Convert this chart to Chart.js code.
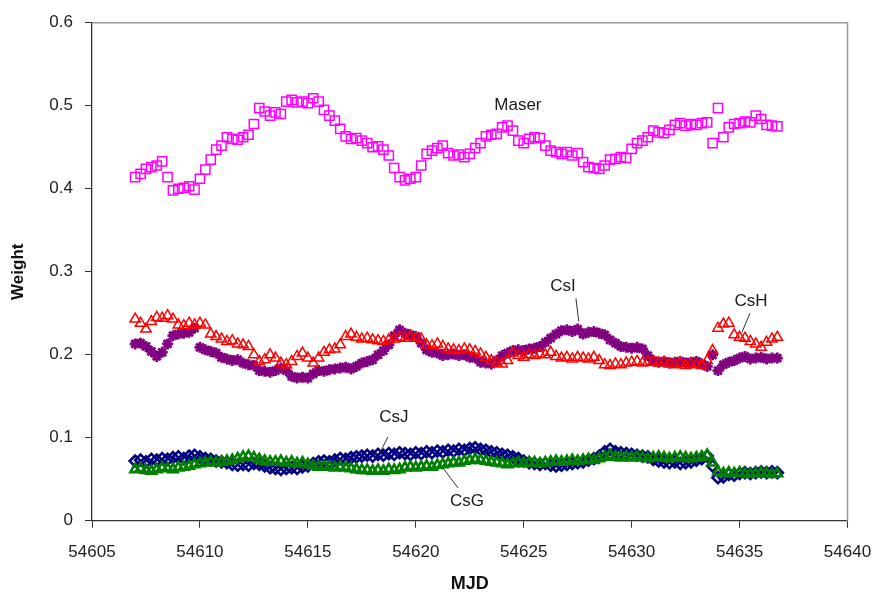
<!DOCTYPE html>
<html>
<head>
<meta charset="utf-8">
<title>Clock weights vs MJD</title>
<script src="https://cdn.jsdelivr.net/npm/chart.js@4.4.1/dist/chart.umd.min.js"></script>
<style>
  html, body { margin: 0; padding: 0; background: #ffffff; }
  #wrap { width: 880px; height: 598px; position: relative; }
</style>
</head>
<body>
<div id="wrap"><canvas id="chart" width="880" height="598"></canvas></div>
<script>
// Sample times (MJD), shared by all five clocks
const mjd = [
  54607.00, 54607.25, 54607.50, 54607.75, 54608.00, 54608.25, 54608.50, 54608.75,
  54609.00, 54609.25, 54609.50, 54609.75, 54610.00, 54610.25, 54610.50, 54610.75,
  54611.00, 54611.25, 54611.50, 54611.75, 54612.00, 54612.25, 54612.50, 54612.75,
  54613.00, 54613.25, 54613.50, 54613.75, 54614.00, 54614.25, 54614.50, 54614.75,
  54615.00, 54615.25, 54615.50, 54615.75, 54616.00, 54616.25, 54616.50, 54616.75,
  54617.00, 54617.25, 54617.50, 54617.75, 54618.00, 54618.25, 54618.50, 54618.75,
  54619.00, 54619.25, 54619.50, 54619.75, 54620.00, 54620.25, 54620.50, 54620.75,
  54621.00, 54621.25, 54621.50, 54621.75, 54622.00, 54622.25, 54622.50, 54622.75,
  54623.00, 54623.25, 54623.50, 54623.75, 54624.00, 54624.25, 54624.50, 54624.75,
  54625.00, 54625.25, 54625.50, 54625.75, 54626.00, 54626.25, 54626.50, 54626.75,
  54627.00, 54627.25, 54627.50, 54627.75, 54628.00, 54628.25, 54628.50, 54628.75,
  54629.00, 54629.25, 54629.50, 54629.75, 54630.00, 54630.25, 54630.50, 54630.75,
  54631.00, 54631.25, 54631.50, 54631.75, 54632.00, 54632.25, 54632.50, 54632.75,
  54633.00, 54633.25, 54633.50, 54633.75, 54634.00, 54634.25, 54634.50, 54634.75,
  54635.00, 54635.25, 54635.50, 54635.75, 54636.00, 54636.25, 54636.50, 54636.75
];

const maser = [
  0.414, 0.418, 0.424, 0.426, 0.428, 0.433, 0.414, 0.398,
  0.400, 0.401, 0.403, 0.399, 0.412, 0.423, 0.435, 0.447,
  0.452, 0.462, 0.460, 0.459, 0.462, 0.465, 0.478, 0.497,
  0.493, 0.488, 0.492, 0.490, 0.505, 0.507, 0.504, 0.505,
  0.503, 0.509, 0.505, 0.495, 0.488, 0.482, 0.472, 0.463,
  0.460, 0.461, 0.458, 0.455, 0.450, 0.451, 0.447, 0.440,
  0.425, 0.414, 0.410, 0.412, 0.414, 0.428, 0.442, 0.446,
  0.449, 0.452, 0.443, 0.440, 0.441, 0.438, 0.442, 0.449,
  0.455, 0.463, 0.465, 0.466, 0.474, 0.476, 0.470, 0.458,
  0.455, 0.460, 0.462, 0.461, 0.452, 0.446, 0.444, 0.442,
  0.444, 0.440, 0.443, 0.432, 0.426, 0.425, 0.424, 0.428,
  0.435, 0.436, 0.438, 0.437, 0.448, 0.455, 0.458, 0.462,
  0.470, 0.468, 0.467, 0.471, 0.477, 0.479, 0.476, 0.478,
  0.477, 0.479, 0.480, 0.455, 0.497, 0.462, 0.474, 0.478,
  0.479, 0.481, 0.480, 0.488, 0.484, 0.477, 0.476, 0.475
];

const csH = [
  0.243, 0.238, 0.231, 0.240, 0.245, 0.244, 0.247, 0.243,
  0.236, 0.235, 0.238, 0.236, 0.238, 0.236, 0.225, 0.222,
  0.219, 0.216, 0.217, 0.213, 0.212, 0.210, 0.200, 0.192,
  0.194, 0.200, 0.196, 0.190, 0.188, 0.192, 0.198, 0.202,
  0.196, 0.190, 0.196, 0.203, 0.206, 0.207, 0.212, 0.222,
  0.225, 0.221, 0.219, 0.220, 0.218, 0.217, 0.216, 0.218,
  0.219, 0.221, 0.220, 0.222, 0.220, 0.219, 0.212, 0.211,
  0.213, 0.210, 0.207, 0.206, 0.205, 0.207, 0.206, 0.204,
  0.201, 0.197, 0.193, 0.190, 0.189, 0.193, 0.202, 0.199,
  0.197, 0.200, 0.199, 0.201, 0.200, 0.203, 0.198, 0.196,
  0.197, 0.195, 0.197, 0.196, 0.195, 0.197, 0.193, 0.188,
  0.187, 0.189, 0.188, 0.190, 0.191, 0.192, 0.190, 0.191,
  0.192, 0.190, 0.191, 0.189, 0.188, 0.190, 0.187, 0.189,
  0.188, 0.187, 0.193, 0.205, 0.232, 0.237, 0.238, 0.224,
  0.221, 0.220, 0.216, 0.213, 0.209, 0.215, 0.219, 0.221
];

const csI = [
  0.213, 0.214, 0.210, 0.204, 0.198, 0.203, 0.213, 0.223,
  0.225, 0.226, 0.227, 0.232, 0.209, 0.206, 0.204, 0.202,
  0.197, 0.195, 0.193, 0.194, 0.190, 0.188, 0.187, 0.181,
  0.180, 0.179, 0.181, 0.184, 0.181, 0.174, 0.172, 0.173,
  0.172, 0.177, 0.181, 0.180, 0.182, 0.183, 0.184, 0.185,
  0.183, 0.186, 0.190, 0.192, 0.194, 0.200, 0.205, 0.212,
  0.223, 0.230, 0.226, 0.224, 0.222, 0.214, 0.206, 0.203,
  0.202, 0.199, 0.200, 0.201, 0.199, 0.200, 0.197, 0.196,
  0.191, 0.190, 0.189, 0.193, 0.199, 0.202, 0.205, 0.206,
  0.205, 0.207, 0.208, 0.210, 0.215, 0.220, 0.225, 0.229,
  0.230, 0.228, 0.231, 0.225, 0.227, 0.228, 0.226, 0.224,
  0.218, 0.214, 0.210, 0.209, 0.208, 0.209, 0.207, 0.199,
  0.193, 0.191, 0.192, 0.190, 0.191, 0.192, 0.190, 0.191,
  0.192, 0.189, 0.186, 0.200, 0.181, 0.188, 0.191, 0.193,
  0.196, 0.198, 0.195, 0.196, 0.197, 0.195, 0.196, 0.196
];

const csJ = [
  0.072, 0.073, 0.071, 0.074, 0.073, 0.075, 0.074, 0.076,
  0.077, 0.075, 0.078, 0.079, 0.077, 0.075, 0.074, 0.072,
  0.071, 0.070, 0.068, 0.067, 0.068, 0.067, 0.069, 0.068,
  0.066, 0.064, 0.063, 0.062, 0.063, 0.064, 0.063, 0.065,
  0.066, 0.069, 0.071, 0.072, 0.071, 0.073, 0.075, 0.074,
  0.076, 0.077, 0.078, 0.079, 0.078, 0.080, 0.079, 0.081,
  0.080, 0.082, 0.081, 0.080, 0.082, 0.081, 0.083, 0.082,
  0.084, 0.083, 0.085, 0.084, 0.086, 0.085, 0.087, 0.088,
  0.086, 0.085, 0.083, 0.082, 0.080, 0.079, 0.077, 0.075,
  0.072, 0.070, 0.069, 0.068, 0.069, 0.067, 0.066, 0.067,
  0.068, 0.069, 0.070, 0.071, 0.073, 0.075, 0.078, 0.083,
  0.086, 0.083, 0.082, 0.081, 0.080, 0.079, 0.078, 0.077,
  0.074, 0.072, 0.071, 0.070, 0.071, 0.069, 0.070, 0.071,
  0.073, 0.075, 0.078, 0.066, 0.052, 0.053, 0.056, 0.055,
  0.057, 0.058, 0.057, 0.058, 0.059, 0.058, 0.059, 0.058
];

const csG = [
  0.062, 0.063, 0.061, 0.060, 0.062, 0.064, 0.063, 0.062,
  0.064, 0.065, 0.066, 0.068, 0.069, 0.070, 0.071, 0.070,
  0.071, 0.072, 0.073, 0.075, 0.077, 0.078, 0.076, 0.074,
  0.072, 0.071, 0.071, 0.072, 0.070, 0.071, 0.069, 0.070,
  0.068, 0.066, 0.065, 0.066, 0.065, 0.064, 0.065, 0.064,
  0.063, 0.062, 0.061, 0.061, 0.060, 0.061, 0.060, 0.062,
  0.061, 0.062, 0.064, 0.065, 0.064, 0.065, 0.066, 0.065,
  0.067, 0.068, 0.069, 0.070, 0.070, 0.072, 0.073, 0.074,
  0.073, 0.072, 0.071, 0.070, 0.069, 0.068, 0.069, 0.070,
  0.069, 0.070, 0.070, 0.069, 0.070, 0.071, 0.072, 0.071,
  0.072, 0.073, 0.072, 0.073, 0.074, 0.073, 0.075, 0.077,
  0.079, 0.077, 0.076, 0.077, 0.076, 0.077, 0.076, 0.075,
  0.076, 0.077, 0.076, 0.075, 0.076, 0.077, 0.076, 0.075,
  0.076, 0.077, 0.079, 0.070, 0.059, 0.057, 0.058, 0.057,
  0.058, 0.057, 0.056, 0.057, 0.058, 0.057, 0.056, 0.057
];

// Axis ticks
const xTicks = [54605, 54610, 54615, 54620, 54625, 54630, 54635, 54640];
const yTicks = [0, 0.1, 0.2, 0.3, 0.4, 0.5, 0.6];

// Series names with their label positions [mjd, weight] and leader lines
const labels = [
  { text: 'Maser', at: [54624.73, 0.501], line: null },
  { text: 'CsI',   at: [54626.82, 0.282], line: [[54627.42, 0.268], [54627.55, 0.240]] },
  { text: 'CsH',   at: [54635.53, 0.264], line: [[54635.48, 0.250], [54635.11, 0.227]] },
  { text: 'CsJ',   at: [54618.99, 0.125], line: [[54618.71, 0.101], [54618.34, 0.082]] },
  { text: 'CsG',   at: [54622.37, 0.024], line: [[54621.96, 0.0395], [54621.26, 0.0636]] }
];

const toPoints = (ys) => ys.map((y, i) => ({ x: mjd[i], y: y }));

const FONT = '"Liberation Sans", Arial, Helvetica, sans-serif';

// Series labels and leader lines, positioned through the chart scales
const seriesLabels = {
  id: 'seriesLabels',
  afterDatasetsDraw(chart) {
    const { ctx, scales: { x, y } } = chart;
    ctx.save();
    ctx.fillStyle = '#1a1a1a';
    ctx.strokeStyle = '#333333';
    ctx.lineWidth = 1;
    ctx.font = '17px ' + FONT;
    ctx.textAlign = 'center';
    ctx.textBaseline = 'middle';
    labels.forEach(l => {
      ctx.fillText(l.text, x.getPixelForValue(l.at[0]), y.getPixelForValue(l.at[1]));
      if (l.line) {
        ctx.beginPath();
        ctx.moveTo(x.getPixelForValue(l.line[0][0]), y.getPixelForValue(l.line[0][1]));
        ctx.lineTo(x.getPixelForValue(l.line[1][0]), y.getPixelForValue(l.line[1][1]));
        ctx.stroke();
      }
    });
    ctx.restore();
  }
};

// Light grey frame on the top and right of the plot area
const plotFrame = {
  id: 'plotFrame',
  beforeDatasetsDraw(chart) {
    const { ctx, chartArea: a } = chart;
    ctx.save();
    ctx.strokeStyle = '#9a9a9a';
    ctx.lineWidth = 1.5;
    ctx.beginPath();
    ctx.moveTo(a.left, a.top);
    ctx.lineTo(a.right, a.top);
    ctx.lineTo(a.right, a.bottom);
    ctx.stroke();
    ctx.restore();
  }
};

const marker = (color, style, radius, width) => ({
  borderColor: color,
  backgroundColor: 'rgba(255,255,255,0)',
  pointStyle: style,
  pointRadius: radius,
  pointBorderWidth: width,
  pointHoverRadius: radius,
  showLine: false
});

new Chart(document.getElementById('chart'), {
  type: 'scatter',
  data: {
    datasets: [
      Object.assign({ label: 'CsG', data: toPoints(csG) }, marker('#008000', 'triangle', 5.5, 2.6)),
      Object.assign({ label: 'CsJ', data: toPoints(csJ) }, marker('#000080', 'rectRot', 5.5, 2.6)),
      Object.assign({ label: 'CsH', data: toPoints(csH) }, marker('#ff0000', 'triangle', 6, 1.5)),
      Object.assign({ label: 'CsI', data: toPoints(csI) }, marker('#800080', 'star', 5.5, 2.8)),
      Object.assign({ label: 'Maser', data: toPoints(maser) }, marker('#ff00ff', 'rect', 6.5, 1.5))
    ]
  },
  options: {
    responsive: false,
    animation: false,
    layout: { padding: { left: 0, top: 22.7, right: 32.5, bottom: 0 } },
    plugins: {
      legend: { display: false },
      tooltip: { enabled: false },
      title: { display: false }
    },
    scales: {
      x: {
        type: 'linear',
        min: xTicks[0],
        max: xTicks[xTicks.length - 1],
        afterBuildTicks: (s) => { s.ticks = xTicks.map(v => ({ value: v })); },
        // fixed axis band height; the last tick label only needs half its width on the right
        afterFit: (s) => { s.height = 77.2; s.paddingRight = 24; s.paddingLeft = 24; },
        grid: { display: true, drawOnChartArea: false, drawTicks: true, tickLength: 7, color: '#333333', lineWidth: 1 },
        border: { display: true, color: '#333333', width: 1.3 },
        ticks: {
          color: '#222222',
          font: { family: FONT, size: 17 },
          padding: 14,
          maxRotation: 0,
          callback: (v) => String(v)
        },
        title: {
          display: true,
          text: 'MJD',
          color: '#111111',
          font: { family: FONT, size: 18, weight: 'bold' },
          padding: { top: 0, bottom: 3 }
        }
      },
      y: {
        min: yTicks[0],
        max: yTicks[yTicks.length - 1],
        afterBuildTicks: (s) => { s.ticks = yTicks.map(v => ({ value: v })); },
        afterFit: (s) => { s.width = 92; },
        grid: { display: true, drawOnChartArea: false, drawTicks: true, tickLength: 7, color: '#333333', lineWidth: 1 },
        border: { display: true, color: '#333333', width: 1.3 },
        ticks: {
          color: '#222222',
          font: { family: FONT, size: 17 },
          padding: 12,
          callback: (v) => String(Math.round(v * 10) / 10)
        },
        title: {
          display: true,
          text: 'Weight',
          color: '#111111',
          font: { family: FONT, size: 17, weight: 'bold' },
          padding: { top: 8, bottom: 0 }
        }
      }
    }
  },
  plugins: [plotFrame, seriesLabels]
});
</script>
</body>
</html>
